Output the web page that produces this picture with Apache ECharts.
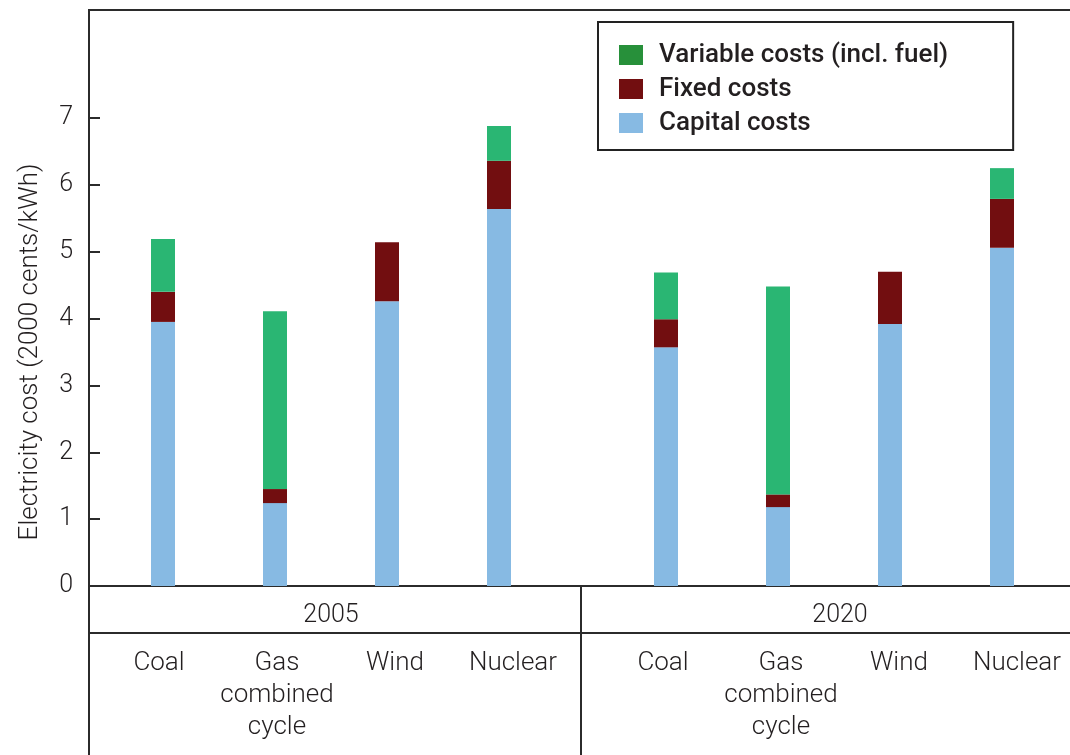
<!DOCTYPE html>
<html>
<head>
<meta charset="utf-8">
<script src="https://cdn.jsdelivr.net/npm/echarts@6/dist/echarts.min.js"></script>
<style>
html,body{margin:0;padding:0;background:#fff;}
#chart{width:1070px;height:755px;}
</style>
</head>
<body>
<div id="chart"></div>
<script>
const categories = ['Coal', 'Gas\ncombined\ncycle', 'Wind', 'Nuclear'];
const years = ['2005', '2020'];
const seriesNames = ['Variable costs (incl. fuel)', 'Fixed costs', 'Capital costs'];
const capital2005 = [3.95, 1.24, 4.26, 5.64];
const fixed2005 = [0.45, 0.21, 0.88, 0.72];
const variable2005 = [0.79, 2.66, 0, 0.52];
const capital2020 = [3.57, 1.18, 3.92, 5.06];
const fixed2020 = [0.42, 0.19, 0.78, 0.73];
const variable2020 = [0.70, 3.11, 0, 0.46];
const yMax = 7;

const FONT = 'Roboto';
const TXT = '#231f20';
const LINE = '#2b2b2b';
const C_VAR = '#2ab673', C_VAR_LEG = '#27903a', C_FIX = '#720e10', C_CAP = '#87bae3';

const chart = echarts.init(document.getElementById('chart'), null, {renderer: 'canvas'});

const TOP = 118, BOTTOM = 169;
const baseGrid = {outerBoundsMode: 'none', containLabel: false};
const grids = [
  Object.assign({left: 89, top: 10, width: 1000, bottom: BOTTOM, show: true, borderColor: LINE, borderWidth: 2, backgroundColor: 'transparent'}, baseGrid), // frame
  Object.assign({left: 89, top: TOP, width: 1000, bottom: BOTTOM}, baseGrid), // y axis
  Object.assign({left: 107, top: TOP, width: 448, bottom: BOTTOM}, baseGrid), // bars 2005
  Object.assign({left: 610, top: TOP, width: 448, bottom: BOTTOM}, baseGrid), // bars 2020
  Object.assign({left: 100, top: TOP, width: 472, bottom: BOTTOM}, baseGrid), // labels 2005
  Object.assign({left: 604, top: TOP, width: 472, bottom: BOTTOM}, baseGrid)  // labels 2020
];

const hiddenY = (gi) => ({type: 'value', gridIndex: gi, min: 0, max: yMax, show: false});
const hiddenCatX = (gi) => ({type: 'category', gridIndex: gi, data: categories, show: false});
const yearNameStyle = {fontFamily: FONT, fontSize: 25, fontWeight: 300, color: TXT};

const labelAxis = (gi, yearName) => ({
  type: 'category', gridIndex: gi, data: categories,
  axisLine: {show: false}, axisTick: {show: false},
  axisLabel: {interval: 0, margin: 61, fontFamily: FONT, fontSize: 26, fontWeight: 300, lineHeight: 32, color: TXT},
  name: yearName, nameLocation: 'middle', nameGap: 17, nameMoveOverlap: false,
  nameTextStyle: yearNameStyle
});

const xAxes = [
  {type: 'value', gridIndex: 0, show: false, min: 0, max: 1},
  {type: 'value', gridIndex: 1, show: false, min: 0, max: 1},
  Object.assign(hiddenCatX(2), {show: true, axisLine: {show: false}, axisTick: {show: false}, axisLabel: {show: false},
    name: years[0], nameLocation: 'middle', nameGap: 17, nameMoveOverlap: false, nameTextStyle: yearNameStyle}),
  hiddenCatX(3),
  labelAxis(4, ''),
  labelAxis(5, years[1])
];

const yAxes = [
  {type: 'value', gridIndex: 0, show: false, min: 0, max: 1},
  {
    type: 'value', gridIndex: 1, min: 0, max: yMax, interval: 1,
    axisLine: {show: true, lineStyle: {color: LINE, width: 2}},
    axisTick: {show: true, inside: true, length: 11, lineStyle: {color: LINE, width: 2}},
    axisLabel: {margin: 16, fontFamily: FONT, fontSize: 25, fontWeight: 300, color: TXT},
    splitLine: {show: false},
    name: 'Electricity cost (2000 cents/kWh)', nameLocation: 'middle', nameGap: 46, nameMoveOverlap: false,
    nameTextStyle: {fontFamily: FONT, fontSize: 26, fontWeight: 300, color: TXT}
  },
  hiddenY(2), hiddenY(3), hiddenY(4), hiddenY(5)
];

function barSeries(name, data, gi, stack, color) {
  return {
    name: name, type: 'bar', stack: stack, data: data,
    xAxisIndex: gi, yAxisIndex: gi, barWidth: 24,
    itemStyle: {color: color}, emphasis: {disabled: true}, silent: true
  };
}

const series = [
  barSeries(seriesNames[2], capital2005, 2, 's2005', C_CAP),
  barSeries(seriesNames[1], fixed2005, 2, 's2005', C_FIX),
  barSeries(seriesNames[0], variable2005, 2, 's2005', C_VAR),
  barSeries(seriesNames[2], capital2020, 3, 's2020', C_CAP),
  barSeries(seriesNames[1], fixed2020, 3, 's2020', C_FIX),
  barSeries(seriesNames[0], variable2020, 3, 's2020', C_VAR)
];

const option = {
  animation: false,
  backgroundColor: '#fff',
  textStyle: {fontFamily: FONT},
  grid: grids,
  xAxis: xAxes,
  yAxis: yAxes,
  legend: {
    orient: 'vertical', left: 598, top: 22,
    padding: [20, 65, 14, 21],
    borderColor: '#222', borderWidth: 2, backgroundColor: '#fff',
    itemWidth: 24, itemHeight: 20, itemGap: 8,
    icon: 'rect', selectedMode: false,
    textStyle: {fontFamily: FONT, fontSize: 26, fontWeight: 500, color: TXT, padding: [0, 0, 0, 11]},
    data: [
      {name: seriesNames[0], itemStyle: {color: C_VAR_LEG}},
      {name: seriesNames[1], itemStyle: {color: C_FIX}},
      {name: seriesNames[2], itemStyle: {color: C_CAP}}
    ]
  },
  graphic: [
    {type: 'line', shape: {x1: 89, y1: 586, x2: 89, y2: 760}, style: {stroke: LINE, lineWidth: 2}},
    {type: 'line', shape: {x1: 89, y1: 633, x2: 1075, y2: 633}, style: {stroke: LINE, lineWidth: 2}},
    {type: 'line', shape: {x1: 581, y1: 586, x2: 581, y2: 760}, style: {stroke: LINE, lineWidth: 2}}
  ],
  series: series
};
chart.setOption(option);
</script>
</body>
</html>
